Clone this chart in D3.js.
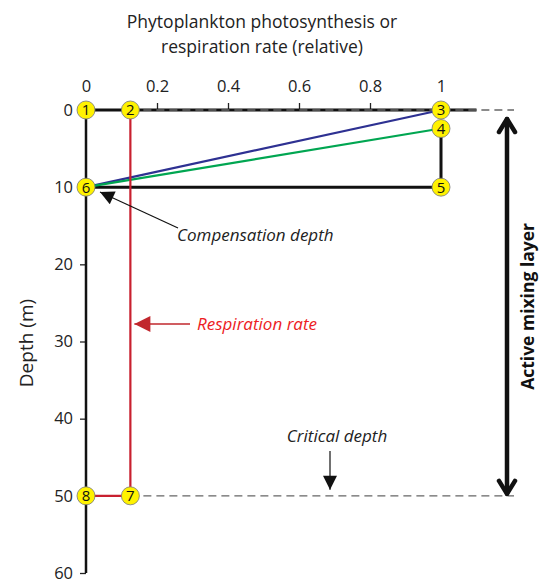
<!DOCTYPE html>
<html><head><meta charset="utf-8">
<script src="https://cdn.jsdelivr.net/npm/d3@7"></script>
<style>body{margin:0;background:#fff}svg{display:block}</style>
</head><body>
<script>
const xTickValues = [0, 0.2, 0.4, 0.6, 0.8, 1];
const yTickValues = [0, 10, 20, 30, 40, 50, 60];
const pointLabels = ["1", "2", "3", "4", "5", "6", "7", "8"];
const pointRate = [0, 0.125, 1, 1, 1, 0, 0.125, 0];
const pointDepth = [0, 0, 0, 2.4, 10, 10, 50, 50];
const respirationRate = 0.125;
const compensationDepth = 10;
const criticalDepth = 50;
const mixingDepth = 50;

const W = 539, H = 583;
const font = "'Open Sans', sans-serif";
const svg = d3.select("body").append("svg").attr("width", W).attr("height", H);
const x = d3.scaleLinear().domain([0, 1.1]).range([86, 476.5]);
const y = d3.scaleLinear().domain([0, 60]).range([110, 573]);
const P = i => [x(pointRate[i]), y(pointDepth[i])];

const defs = svg.append("defs");
function marker(id, color, w, h) {
  defs.append("marker").attr("id", id).attr("viewBox", "0 0 10 10").attr("refX", 10).attr("refY", 5)
    .attr("markerWidth", w).attr("markerHeight", h).attr("markerUnits", "userSpaceOnUse").attr("orient", "auto")
    .append("path").attr("d", "M0,0L10,5L0,10Z").attr("fill", color);
}
marker("blk", "#111", 16, 14);
marker("red", "#c1272d", 18, 16);

// Title
svg.append("text").attr("x", 262).attr("y", 28).attr("text-anchor", "middle")
  .style("font-family", font).style("font-size", "17.5px").attr("fill", "#222").text("Phytoplankton photosynthesis or");
svg.append("text").attr("x", 262).attr("y", 53).attr("text-anchor", "middle")
  .style("font-family", font).style("font-size", "17.5px").attr("fill", "#222").text("respiration rate (relative)");

// Axes
const ax = svg.append("g").attr("transform", `translate(0,${y(0)})`)
  .call(d3.axisTop(x).tickValues(xTickValues).tickSize(7).tickPadding(11).tickFormat(d3.format("~g")));
const ay = svg.append("g").attr("transform", `translate(${x(0)},0)`)
  .call(d3.axisLeft(y).tickValues(yTickValues).tickSize(6).tickPadding(7));
[ax, ay].forEach(g => {
  g.select(".domain").remove();
  g.selectAll("line").attr("stroke", "#222").attr("stroke-width", 1.3);
  g.selectAll("text").style("font-family", font).style("font-size", "16.5px").attr("fill", "#222");
});
svg.append("text").attr("transform", `translate(33,${y(30.2)}) rotate(-90)`).attr("text-anchor", "middle")
  .style("font-family", font).style("font-size", "19px").attr("fill", "#222").text("Depth (m)");

// Black profile lines
svg.append("line").attr("x1", x(0)).attr("x2", x(1.1)).attr("y1", y(0)).attr("y2", y(0))
  .attr("stroke", "#111").attr("stroke-width", 3);
svg.append("line").attr("x1", x(0)).attr("x2", x(0)).attr("y1", y(0)).attr("y2", y(60))
  .attr("stroke", "#111").attr("stroke-width", 2.5);
svg.append("path").attr("d", d3.line()([P(3), P(4), P(5)])).attr("fill", "none")
  .attr("stroke", "#111").attr("stroke-width", 3);

// Dashed reference lines
svg.append("line").attr("x1", x(respirationRate)).attr("x2", 514).attr("y1", y(0)).attr("y2", y(0))
  .attr("stroke", "#666").attr("stroke-width", 1.3).attr("stroke-dasharray", "8,5");
svg.append("line").attr("x1", x(respirationRate)).attr("x2", 514).attr("y1", y(criticalDepth)).attr("y2", y(criticalDepth))
  .attr("stroke", "#666").attr("stroke-width", 1.3).attr("stroke-dasharray", "8,5");

// Photosynthesis lines
svg.append("line").attr("x1", P(2)[0]).attr("y1", P(2)[1]).attr("x2", P(5)[0]).attr("y2", P(5)[1])
  .attr("stroke", "#2e3192").attr("stroke-width", 2.2);
svg.append("line").attr("x1", P(3)[0]).attr("y1", P(3)[1]).attr("x2", P(5)[0]).attr("y2", P(5)[1])
  .attr("stroke", "#00a651").attr("stroke-width", 2.2);

// Respiration
svg.append("path").attr("d", d3.line()([P(1), P(6), P(7)])).attr("fill", "none")
  .attr("stroke", "#c8202f").attr("stroke-width", 2.2);

// Mixing layer arrow
const ma = svg.append("g").attr("stroke", "#111").attr("stroke-width", 4.5).attr("fill", "none")
  .attr("stroke-linecap", "round").attr("stroke-linejoin", "round");
const ax0 = 507, yTop = y(0) + 9, yBot = y(mixingDepth) - 2;
ma.append("line").attr("x1", ax0).attr("x2", ax0).attr("y1", yTop).attr("y2", yBot);
ma.append("path").attr("d", `M${ax0 - 8},${yTop + 13}L${ax0},${yTop}L${ax0 + 8},${yTop + 13}`);
ma.append("path").attr("d", `M${ax0 - 8},${yBot - 13}L${ax0},${yBot}L${ax0 + 8},${yBot - 13}`);
svg.append("text").attr("transform", `translate(534,${(yTop + yBot) / 2}) rotate(-90)`).attr("text-anchor", "middle")
  .style("font-family", font).style("font-size", "17.5px").style("font-weight", "bold").attr("fill", "#111")
  .text("Active mixing layer");

// Annotations
svg.append("line").attr("x1", 178).attr("y1", 228).attr("x2", 100).attr("y2", 192)
  .attr("stroke", "#111").attr("stroke-width", 1.2).attr("marker-end", "url(#blk)");
svg.append("text").attr("x", 177).attr("y", 241).style("font-family", font).style("font-size", "17px")
  .style("font-style", "italic").attr("fill", "#222").text("Compensation depth");

svg.append("line").attr("x1", 190).attr("y1", 324).attr("x2", x(respirationRate) + 4).attr("y2", 324)
  .attr("stroke", "#c1272d").attr("stroke-width", 1.3).attr("marker-end", "url(#red)");
svg.append("text").attr("x", 197).attr("y", 330).style("font-family", font).style("font-size", "17px")
  .style("font-style", "italic").attr("fill", "#ed1c24").text("Respiration rate");

svg.append("text").attr("x", 337).attr("y", 442).attr("text-anchor", "middle").style("font-family", font)
  .style("font-size", "17px").style("font-style", "italic").attr("fill", "#222").text("Critical depth");
svg.append("line").attr("x1", 330).attr("y1", 451).attr("x2", 330).attr("y2", y(criticalDepth) - 6)
  .attr("stroke", "#111").attr("stroke-width", 1.2).attr("marker-end", "url(#blk)");

// Numbered points
const pts = svg.append("g").selectAll("g").data(pointLabels).join("g")
  .attr("transform", (d, i) => `translate(${P(i)[0]},${P(i)[1]})`);
pts.append("circle").attr("r", 9).attr("fill", "#fff200").attr("stroke", "#777").attr("stroke-width", 0.8);
pts.append("text").attr("text-anchor", "middle").attr("dy", "0.36em").style("font-family", font)
  .style("font-size", "15px").attr("fill", "#111").text(d => d);
</script>
</body></html>
